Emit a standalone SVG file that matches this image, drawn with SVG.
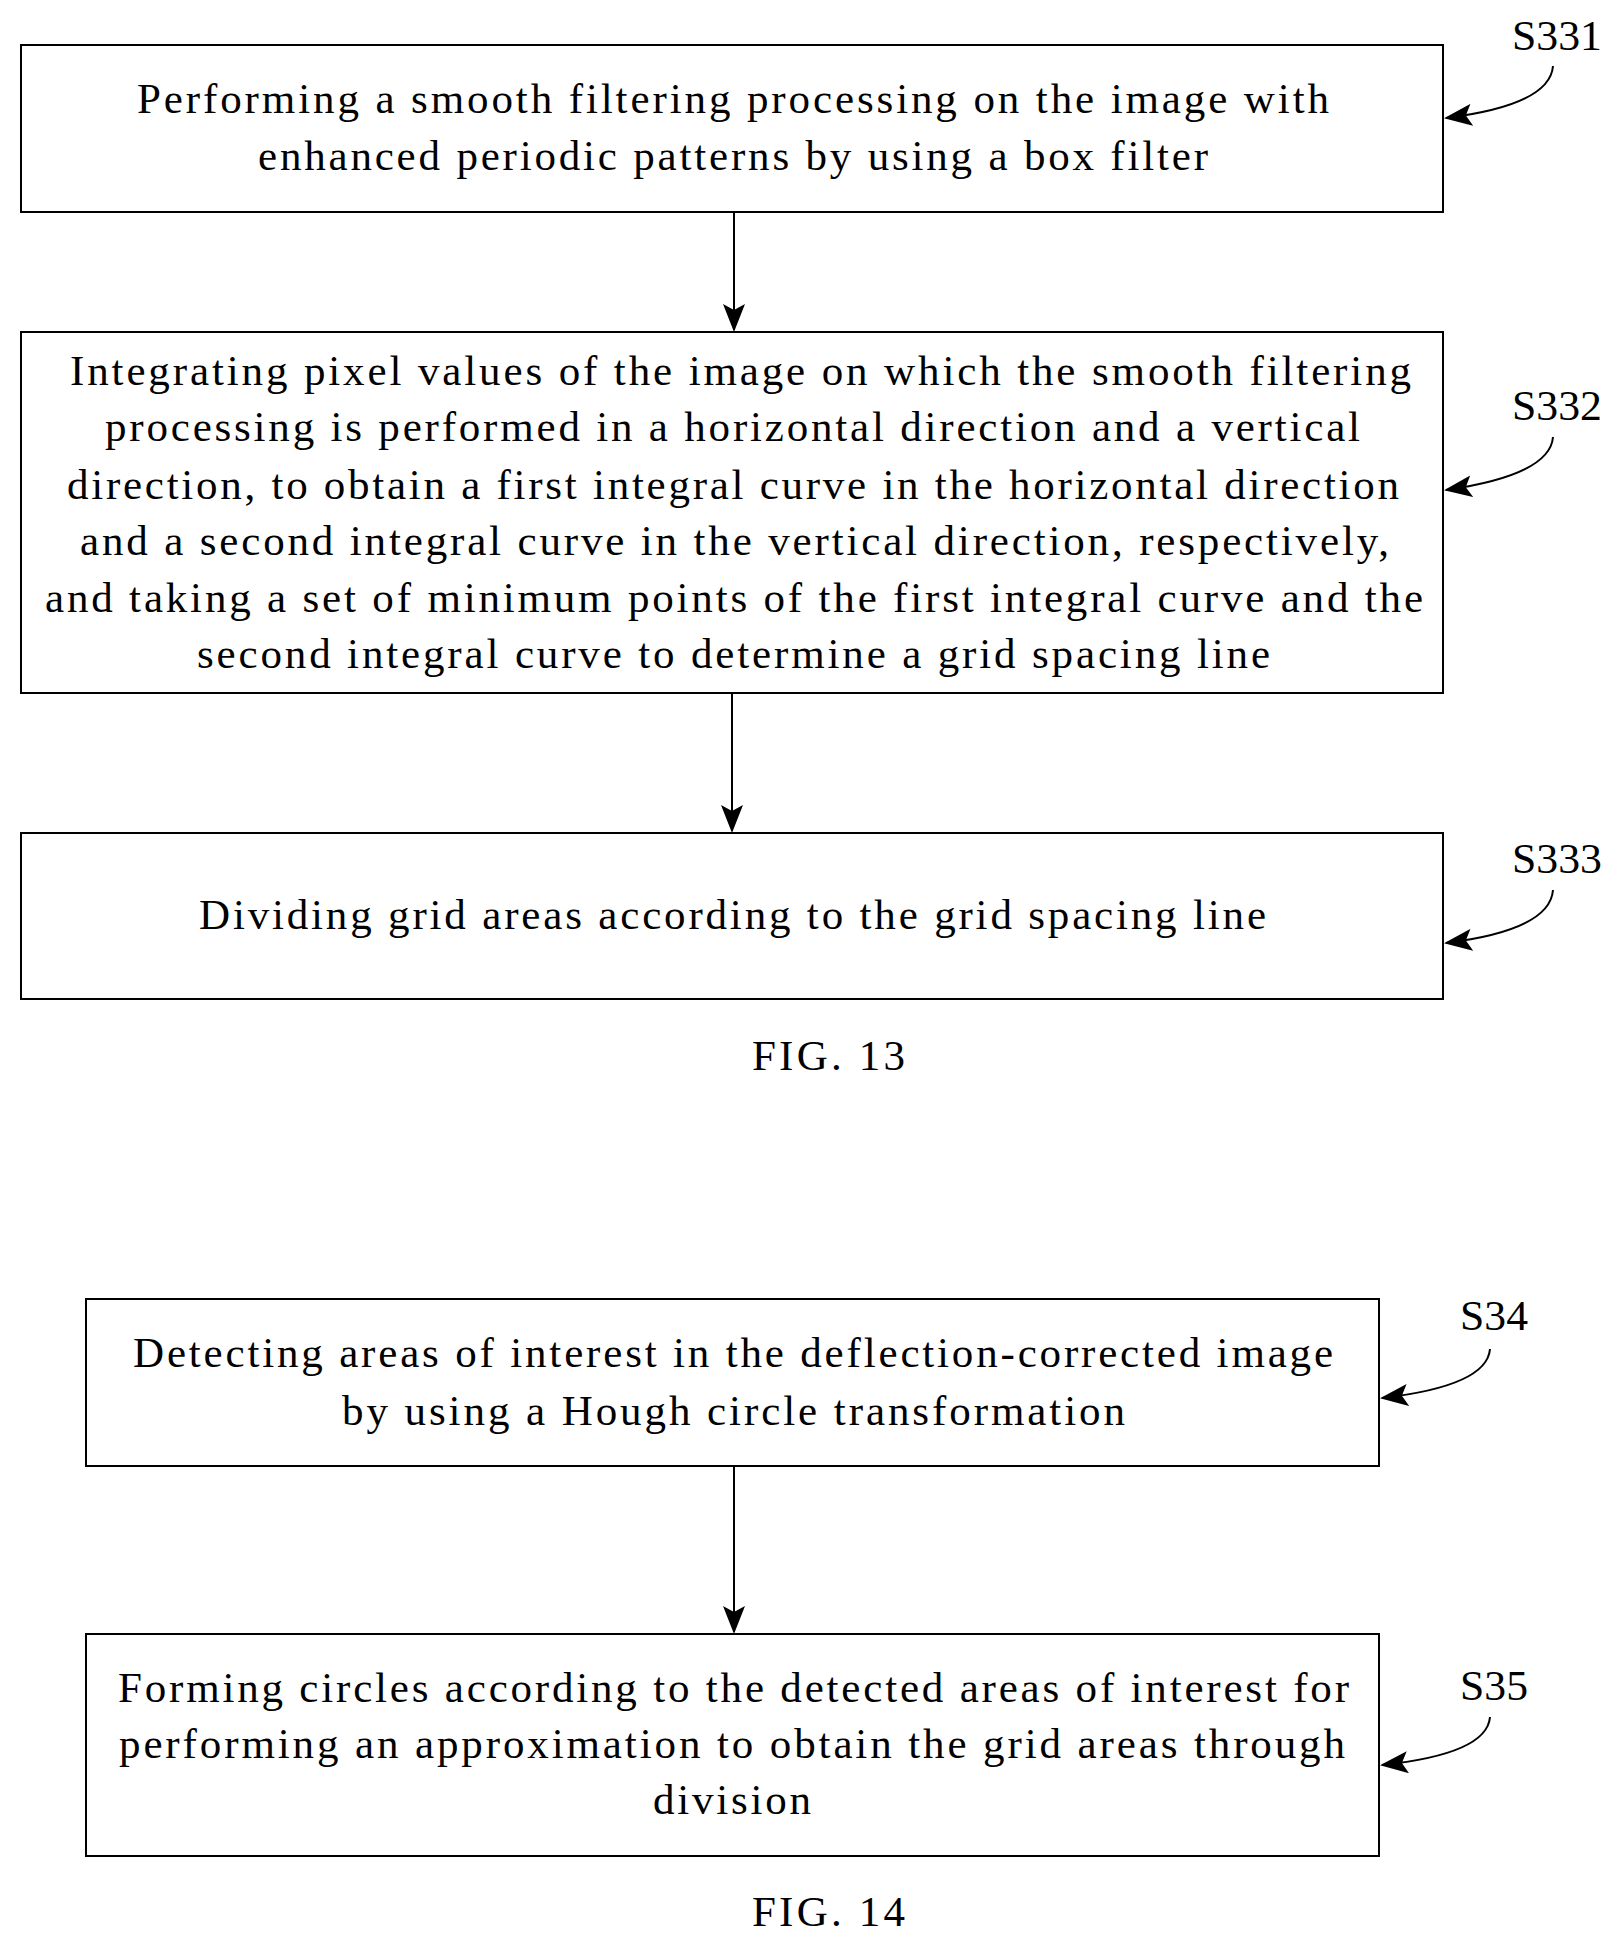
<svg xmlns="http://www.w3.org/2000/svg" width="1618" height="1946" viewBox="0 0 1618 1946">
<defs>
<marker id="ah" markerWidth="22" markerHeight="28" refX="11" refY="26" orient="0" markerUnits="userSpaceOnUse"><path d="M0,0 L11,28 L22,0 L11,6 z" fill="#000"/></marker>
<marker id="cv" markerWidth="30" markerHeight="22" refX="26" refY="11" orient="auto" markerUnits="userSpaceOnUse"><path d="M0,0 L28,11 L0,22 L6,11 z" fill="#000"/></marker>
<style>
.b{fill:#fff;stroke:#000;stroke-width:2}
text{font-family:"Liberation Serif","Times New Roman",serif;font-size:43px;fill:#000}
.c{fill:none;stroke:#000;stroke-width:2}
</style>
</defs>
<rect width="1618" height="1946" fill="#fff"/>
<g id="s331"><rect class="b" x="21" y="45" width="1422" height="167"/>
<text x="137" y="113" textLength="1192" lengthAdjust="spacing">Performing a smooth filtering processing on the image with</text>
<text x="258" y="170" textLength="950" lengthAdjust="spacing">enhanced periodic patterns by using a box filter</text>
<text x="1512" y="50" textLength="90" lengthAdjust="spacingAndGlyphs">S331</text></g>
<g id="s332"><rect class="b" x="21" y="332" width="1422" height="361"/>
<text x="70" y="385" textLength="1341" lengthAdjust="spacing">Integrating pixel values of the image on which the smooth filtering</text>
<text x="105" y="441" textLength="1255" lengthAdjust="spacing">processing is performed in a horizontal direction and a vertical</text>
<text x="67" y="499" textLength="1332" lengthAdjust="spacing">direction, to obtain a first integral curve in the horizontal direction</text>
<text x="80" y="555" textLength="1309" lengthAdjust="spacing">and a second integral curve in the vertical direction, respectively,</text>
<text x="45" y="612" textLength="1378" lengthAdjust="spacing">and taking a set of minimum points of the first integral curve and the</text>
<text x="197" y="668" textLength="1073" lengthAdjust="spacing">second integral curve to determine a grid spacing line</text>
<text x="1512" y="420" textLength="90" lengthAdjust="spacingAndGlyphs">S332</text></g>
<g id="s333"><rect class="b" x="21" y="833" width="1422" height="166"/>
<text x="199" y="929" textLength="1067" lengthAdjust="spacing">Dividing grid areas according to the grid spacing line</text>
<text x="1512" y="873" textLength="90" lengthAdjust="spacingAndGlyphs">S333</text></g>
<text x="752" y="1070" textLength="153" lengthAdjust="spacing">FIG. 13</text>
<g id="s34"><rect class="b" x="86" y="1299" width="1293" height="167"/>
<text x="133" y="1367" textLength="1200" lengthAdjust="spacing">Detecting areas of interest in the deflection-corrected image</text>
<text x="342" y="1425" textLength="783" lengthAdjust="spacing">by using a Hough circle transformation</text>
<text x="1460" y="1330" textLength="68" lengthAdjust="spacingAndGlyphs">S34</text></g>
<g id="s35"><rect class="b" x="86" y="1634" width="1293" height="222"/>
<text x="118" y="1702" textLength="1231" lengthAdjust="spacing">Forming circles according to the detected areas of interest for</text>
<text x="119" y="1758" textLength="1226" lengthAdjust="spacing">performing an approximation to obtain the grid areas through</text>
<text x="653" y="1814" textLength="158" lengthAdjust="spacing">division</text>
<text x="1460" y="1700" textLength="68" lengthAdjust="spacingAndGlyphs">S35</text></g>
<text x="752" y="1926" textLength="153" lengthAdjust="spacing">FIG. 14</text>
<g id="connectors">
<line class="c" x1="734" y1="212" x2="734" y2="330" marker-end="url(#ah)"/>
<line class="c" x1="732" y1="693" x2="732" y2="831" marker-end="url(#ah)"/>
<line class="c" x1="734" y1="1466" x2="734" y2="1632" marker-end="url(#ah)"/>
<path class="c" d="M1553,66 Q1550,105 1446,118" marker-end="url(#cv)"/>
<path class="c" d="M1553,437 Q1550,475 1446,490" marker-end="url(#cv)"/>
<path class="c" d="M1553,890 Q1550,930 1446,943" marker-end="url(#cv)"/>
<path class="c" d="M1490,1349 Q1487,1386 1382,1398" marker-end="url(#cv)"/>
<path class="c" d="M1490,1717 Q1487,1754 1382,1765" marker-end="url(#cv)"/>
</g>
</svg>
